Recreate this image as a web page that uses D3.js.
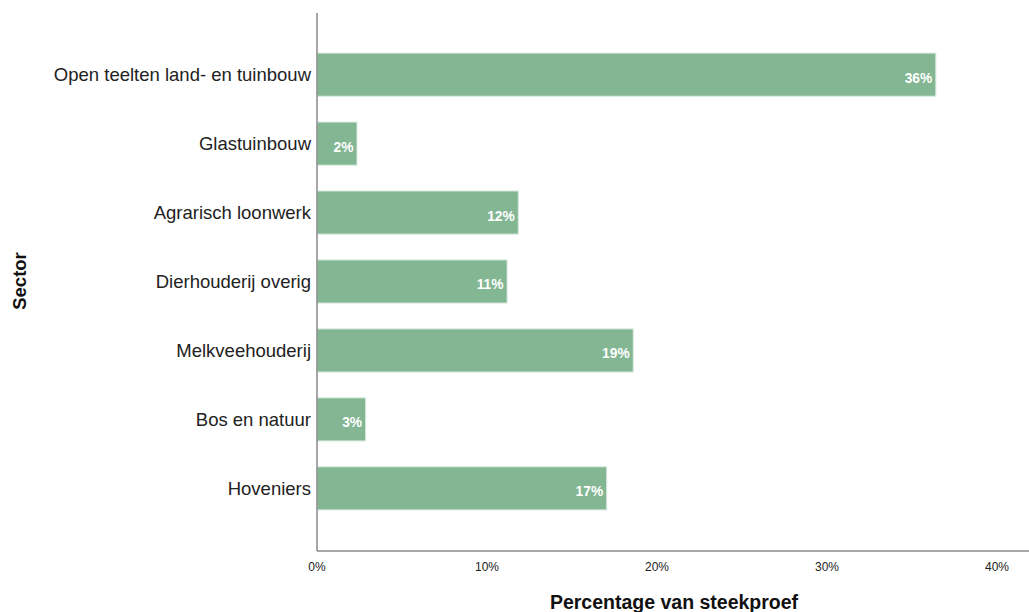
<!DOCTYPE html>
<html><head><meta charset="utf-8">
<script src="https://cdn.jsdelivr.net/npm/d3@7"></script>
<style>body{margin:0;background:#fff}svg{display:block}</style>
</head><body><svg id="c" width="1029" height="612"></svg>
<script>
const categories = ["Open teelten land- en tuinbouw","Glastuinbouw","Agrarisch loonwerk","Dierhouderij overig","Melkveehouderij","Bos en natuur","Hoveniers"];
const values = [36.4, 2.35, 11.84, 11.18, 18.6, 2.86, 17.04];
const valueLabels = ["36%","2%","12%","11%","19%","3%","17%"];
const ticks = [0,10,20,30,40];

const svg = d3.select("#c");
const x = d3.scaleLinear().domain([0,40]).range([317,997]);
const y = d3.scaleBand().domain(categories).range([40,523]).paddingInner(0.375).paddingOuter(0.19);

svg.selectAll("rect.bar").data(categories).join("rect")
  .attr("x", x(0)).attr("y", d=>y(d)).attr("width", (d,i)=>x(values[i])-x(0))
  .attr("height", y.bandwidth()).attr("fill","#83b693").attr("stroke","#d6e8dc").attr("stroke-width",1);

svg.selectAll("text.val").data(categories).join("text")
  .attr("x",(d,i)=>x(values[i])-3.5).attr("y",d=>y(d)+y.bandwidth()/2+8)
  .attr("text-anchor","end").attr("fill","#fff").attr("font-weight","bold")
  .attr("font-family","'Liberation Sans',Arial,sans-serif").attr("font-size",15)
  .attr("transform",(d,i)=>{const xx=x(values[i])-3.5;return `translate(${xx},0) scale(0.92,1) translate(${-xx},0)`;})
  .text((d,i)=>valueLabels[i]);

svg.selectAll("text.cat").data(categories).join("text")
  .attr("x",311).attr("y",d=>y(d)+y.bandwidth()/2+6.5)
  .attr("text-anchor","end").attr("fill","#222")
  .attr("font-family","'Liberation Sans',Arial,sans-serif").attr("font-size",18.5)
  .text(d=>d);

// axes lines
svg.append("line").attr("x1",317).attr("x2",317).attr("y1",13).attr("y2",551).attr("stroke","#8a8a8a").attr("stroke-width",1.5);
svg.append("line").attr("x1",317).attr("x2",1029).attr("y1",551).attr("y2",551).attr("stroke","#8a8a8a").attr("stroke-width",1.5);

svg.selectAll("text.tick").data(ticks).join("text")
  .attr("x",d=>x(d)).attr("y",571).attr("text-anchor","middle").attr("fill","#222")
  .attr("font-family","'Liberation Sans',Arial,sans-serif").attr("font-size",12)
  .text(d=>d+"%");

svg.append("text").attr("x",674).attr("y",609).attr("text-anchor","middle")
  .attr("font-family","'Liberation Sans',Arial,sans-serif").attr("font-size",19.5).attr("font-weight","bold").attr("fill","#111")
  .text("Percentage van steekproef");
svg.append("text").attr("transform","translate(26,281) rotate(-90)").attr("text-anchor","middle")
  .attr("font-family","'Liberation Sans',Arial,sans-serif").attr("font-size",18.5).attr("font-weight","bold").attr("fill","#111")
  .text("Sector");
</script></body></html>
